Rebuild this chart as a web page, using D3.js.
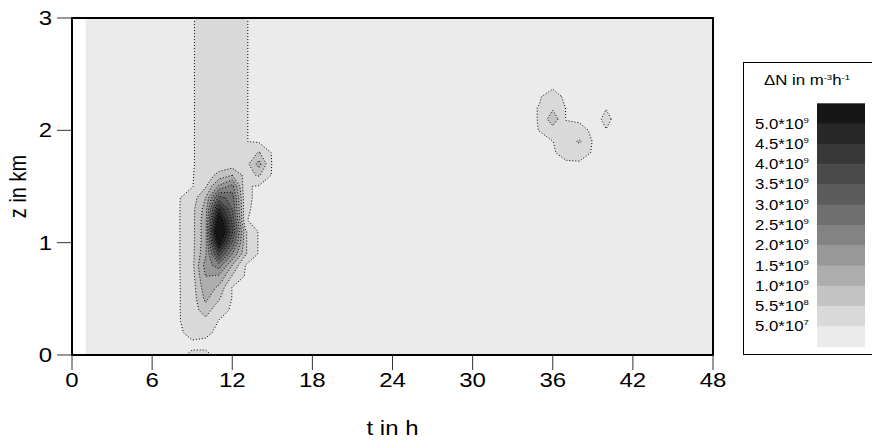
<!DOCTYPE html>
<html>
<head>
<meta charset="utf-8">
<script src="https://cdn.jsdelivr.net/npm/d3@7"></script>
<style>
  body { margin: 0; background: #fff; }
  svg text { font-family: "Liberation Sans", Arial, sans-serif; fill: #000; }
</style>
</head>
<body>
<div id="chart"></div>
<script>
// ── data ─────────────────────────────────────────────────────────────────────
// grid: t = 1..48 h (step 1), z = 0..3 km (step 0.1); values in units of 1e9 m^-3 h^-1
const tStart = 1, tStep = 1, tCount = 48;
const zStep = 0.1, zCount = 31;

const xTicks = [0, 6, 12, 18, 24, 30, 36, 42, 48];
const yTicks = [0, 1, 2, 3];

// contour levels (1e9 units) and the grey of each band, lowest band first
const thresholds = [0.05, 0.55, 1.0, 1.5, 2.0, 2.5, 3.0, 3.5, 4.0, 4.5, 5.0];
const bandColors = ['#ebebeb', '#d9d9d9', '#c3c3c3', '#adadad', '#989898', '#838383',
                    '#6f6f6f', '#5c5c5c', '#4a4a4a', '#383838', '#272727', '#161616'];

// plume around t = 8..14 h, one row per z step starting at z = 0.0
const plumeT0 = 8;
const plumeRows = [
  //  t8    t9    t10   t11   t12   t13   t14
  [0,    0.09, 0.09, 0,    0,    0,    0   ], // z 0.0
  [0,    0,    0,    0,    0,    0,    0   ], // 0.1
  [0,    0.15, 0.1,  0,    0,    0,    0   ], // 0.2
  [0.02, 0.25, 0.4,  0.03, 0,    0,    0   ], // 0.3
  [0.02, 0.3,  0.8,  0.2,  0,    0,    0   ], // 0.4
  [0.02, 0.3,  1.1,  0.6,  0.03, 0,    0   ], // 0.5
  [0.02, 0.3,  1.3,  0.9,  0.03, 0,    0   ], // 0.6
  [0.02, 0.35, 1.5,  1.4,  0.5,  0,    0   ], // 0.7
  [0.02, 0.4,  1.7,  2.3,  1.0,  0.04, 0   ], // 0.8
  [0.02, 0.4,  1.4,  3.8,  2.0,  0.6,  0   ], // 0.9
  [0.02, 0.4,  1.3,  5.4,  3.0,  0.6,  0   ], // 1.0
  [0.02, 0.4,  1.3,  6.4,  3.6,  0.6,  0   ], // 1.1
  [0.02, 0.4,  1.3,  5.6,  3.4,  0.06, 0   ], // 1.2
  [0.02, 0.4,  1.2,  4.6,  3.0,  0.08, 0   ], // 1.3
  [0.02, 0.3,  1.0,  3.2,  2.8,  0.1,  0   ], // 1.4
  [0,    0.02, 0.5,  1.6,  2.2,  0.1,  0   ], // 1.5
  [0,    0.02, 0.3,  0.7,  1.0,  0.4,  0.6 ], // 1.6
  [0,    0.02, 0.2,  0.25, 0.3,  0.35, 1.2 ], // 1.7
  [0,    0.02, 0.2,  0.25, 0.2,  0.15, 0.6 ], // 1.8
  [0,    0.02, 0.2,  0.25, 0.2,  0.06, 0   ], // 1.9
  [0,    0.02, 0.2,  0.25, 0.2,  0.06, 0   ], // 2.0
  [0,    0.02, 0.2,  0.25, 0.2,  0.06, 0   ], // 2.1
  [0,    0.02, 0.2,  0.25, 0.2,  0.06, 0   ], // 2.2
  [0,    0.02, 0.2,  0.25, 0.2,  0.06, 0   ], // 2.3
  [0,    0.02, 0.2,  0.25, 0.2,  0.06, 0   ], // 2.4
  [0,    0.02, 0.2,  0.25, 0.2,  0.06, 0   ], // 2.5
  [0,    0.02, 0.2,  0.25, 0.2,  0.06, 0   ], // 2.6
  [0,    0.02, 0.2,  0.25, 0.2,  0.06, 0   ], // 2.7
  [0,    0.02, 0.2,  0.25, 0.2,  0.06, 0   ], // 2.8
  [0,    0.02, 0.2,  0.25, 0.2,  0.06, 0   ], // 2.9
  [0,    0.02, 0.2,  0.25, 0.2,  0.06, 0   ]  // 3.0
];

// second event around t = 35..40 h, rows start at z = 1.7
const cloudT0 = 34, cloudZ0 = 1.7;
const cloudRows = [
  //  t34  t35    t36   t37   t38   t39   t40    t41
  [0,   0,     0,    0,    0,    0,    0,     0], // z 1.7
  [0,   0,     0.02, 0.15, 0.2,  0.02, 0,     0], // 1.8
  [0,   0,     0.04, 0.3,  0.62, 0.02, 0,     0], // 1.9
  [0,   0.055, 0.3,  0.2,  0.15, 0,    0.045, 0], // 2.0
  [0,   0.06,  0.9,  0.03, 0,    0,    0.08,  0], // 2.1
  [0,   0.06,  0.45, 0.03, 0,    0,    0.045, 0], // 2.2
  [0,   0.03,  0.15, 0,    0,    0,    0,     0], // 2.3
  [0,   0,     0,    0,    0,    0,    0,     0]  // 2.4
];

// ── layout ───────────────────────────────────────────────────────────────────
const W = 872, H = 444;
const STRETCH = 1.2;   // the original text is drawn a bit wider than tall

const x = d3.scaleLinear().domain([0, 48]).range([72, 713]);
const y = d3.scaleLinear().domain([0, 3]).range([355, 18]);

const svg = d3.select('#chart').append('svg')
  .attr('width', W).attr('height', H);

svg.append('rect').attr('width', W).attr('height', H).attr('fill', '#fff');

// ── grid ─────────────────────────────────────────────────────────────────────
const values = new Array(tCount * zCount).fill(0);
function paste(rows, t0, z0) {
  const j0 = Math.round(z0 / zStep);
  rows.forEach((row, r) => row.forEach((v, c) => {
    const i = (t0 - tStart) / tStep + c;
    values[(j0 + r) * tCount + i] = v;
  }));
}
paste(plumeRows, plumeT0, 0);
paste(cloudRows, cloudT0, cloudZ0);

const contours = d3.contours()
  .size([tCount, zCount])
  .thresholds(thresholds)(values);

// grid coordinates -> screen (d3.contours puts sample i at i + 0.5)
const proj = d3.geoTransform({
  point(px, py) {
    this.stream.point(x(tStart + (px - 0.5) * tStep), y((py - 0.5) * zStep));
  }
});
const path = d3.geoPath(proj);

svg.append('clipPath').attr('id', 'plot-clip')
  .append('rect')
    .attr('x', x(tStart)).attr('y', y(3))
    .attr('width', x(48) - x(tStart)).attr('height', y(0) - y(3));

const plot = svg.append('g').attr('clip-path', 'url(#plot-clip)');

plot.append('rect')
  .attr('x', x(tStart)).attr('y', y(3))
  .attr('width', x(48) - x(tStart)).attr('height', y(0) - y(3))
  .attr('fill', bandColors[0]);

plot.selectAll('.band')
  .data(contours)
  .enter()
  .append('path')
    .attr('class', 'band')
    .attr('d', path)
    .attr('fill', (d, i) => bandColors[i + 1])
    .attr('stroke', 'none');

plot.selectAll('.iso')
  .data(contours)
  .enter()
  .append('path')
    .attr('class', 'iso')
    .attr('d', path)
    .attr('fill', 'none')
    .attr('stroke', '#000')
    .attr('stroke-width', 1)
    .attr('stroke-dasharray', '1,2');

// frame
svg.append('rect')
  .attr('x', x(0)).attr('y', y(3))
  .attr('width', x(48) - x(0)).attr('height', y(0) - y(3))
  .attr('fill', 'none').attr('stroke', '#000').attr('stroke-width', 2);

// ── axes ─────────────────────────────────────────────────────────────────────
function label(g, tx, ty, size, anchor, extra) {
  return g.append('text')
    .attr('transform', `translate(${tx},${ty}) scale(${STRETCH},1)` + (extra || ''))
    .attr('font-size', size)
    .attr('text-anchor', anchor);
}

const axes = svg.append('g');

xTicks.forEach(t => {
  axes.append('line')
    .attr('x1', x(t)).attr('x2', x(t))
    .attr('y1', y(0)).attr('y2', y(0) + 15)
    .attr('stroke', '#333').attr('stroke-width', 1);
  label(axes, x(t), 387, 20, 'middle').text(t);
});

yTicks.forEach(v => {
  axes.append('line')
    .attr('x1', x(0) - 15).attr('x2', x(0))
    .attr('y1', y(v)).attr('y2', y(v))
    .attr('stroke', '#333').attr('stroke-width', 1);
  label(axes, 52, y(v) + 7, 20, 'end').text(v);
});

label(axes, (x(0) + x(48)) / 2, 435, 20, 'middle').text('t in h');
label(axes, 26, (y(0) + y(3)) / 2, 20, 'middle', ' rotate(-90)').text('z in km');

// ── legend ───────────────────────────────────────────────────────────────────
const legend = svg.append('g');
legend.append('rect')
  .attr('x', 743.5).attr('y', 62.5)
  .attr('width', 140).attr('height', 292)
  .attr('fill', '#fff').attr('stroke', '#000').attr('stroke-width', 1);

const title = label(legend, 807, 85, 14, 'middle');
title.append('tspan').text('\u0394N in m');
title.append('tspan').attr('font-size', 8).attr('dy', -5).text('-3');
title.append('tspan').attr('dy', 5).text('h');
title.append('tspan').attr('font-size', 8).attr('dy', -5).text('-1');

const barTop = 103.3, swatchH = 20.28;
const swatches = bandColors.slice().reverse();   // darkest on top
legend.selectAll('.swatch')
  .data(swatches)
  .enter()
  .append('rect')
    .attr('class', 'swatch')
    .attr('x', 817).attr('y', (d, k) => barTop + k * swatchH)
    .attr('width', 48).attr('height', swatchH + 0.5)
    .attr('fill', d => d);

thresholds.slice().reverse().forEach((thr, k) => {
  const [mant, exp] = (thr * 1e9).toExponential(1).split('e+');
  const ty = barTop + (k + 1) * swatchH + 5;
  const t = label(legend, 755, ty, 14, 'start');
  t.append('tspan').text(mant + '*10');
  t.append('tspan').attr('font-size', 8).attr('dy', -6).text(exp);
});
</script>
</body>
</html>
